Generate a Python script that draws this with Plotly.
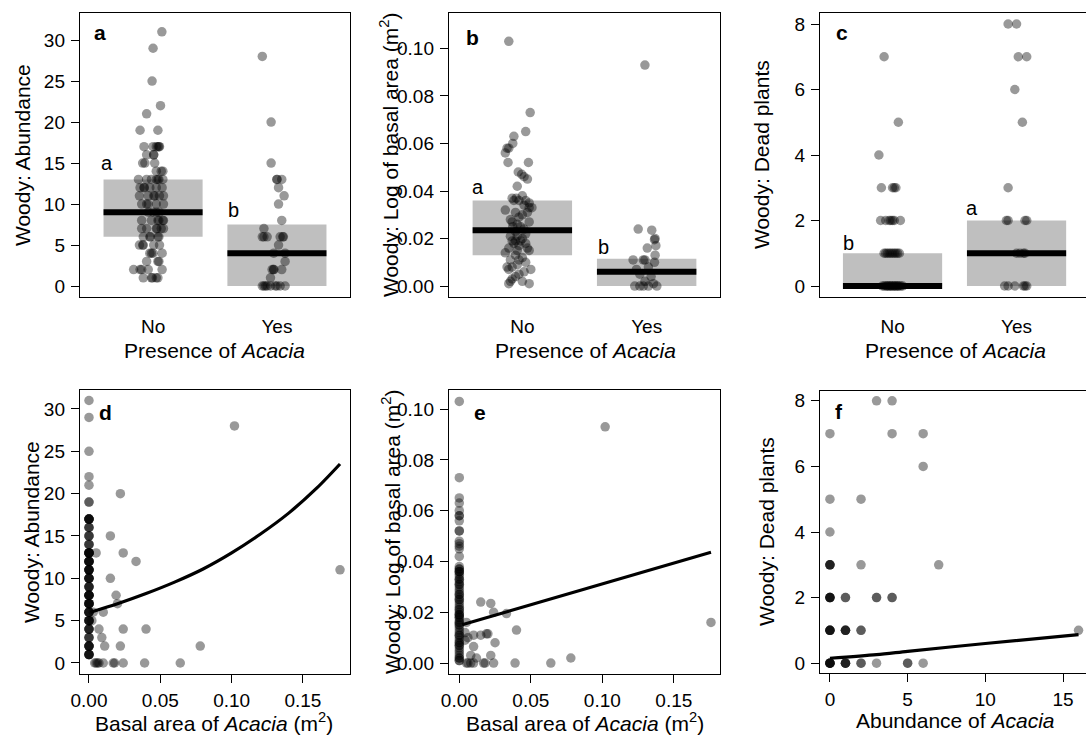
import plotly.graph_objects as go

W, H = 1086, 738
FONT = "Liberation Sans, Arial, sans-serif"
PT = "rgba(0,0,0,0.4)"
BOXC = "rgb(191,191,191)"

# ---------------- data ----------------
cats = ["No", "Yes"]

# panel a: woody abundance by presence of Acacia (jitter offsets)
a_no_y = [31, 29, 25, 22, 21, 19, 19, 17, 17, 17, 17, 17, 16, 16, 15, 15, 15, 14, 14,
          13, 13, 13, 13, 13, 13, 12, 12, 12, 12, 12, 11, 11, 11, 11, 11, 10, 10, 10, 10,
          9, 9, 9, 8, 8, 8, 8, 8, 7, 7, 7, 7, 7, 6, 6, 6, 6, 5, 5, 5, 5, 4, 4, 4, 3, 3,
          2, 2, 2, 2, 1, 1, 1, 12, 8, 6, 7, 13, 17, 16, 4, 1, 1, 2, 3, 10, 11, 9, 5, 14]
a_no_j = [0.071, 0.0, -0.008, 0.060, -0.052, -0.105, 0.039, -0.073, 0.0, 0.026, 0.039, 0.052,
          -0.052, 0.005, -0.084, -0.066, 0.013, 0.066, 0.079,
          -0.118, -0.052, -0.013, 0.026, 0.047, 0.079, -0.105, -0.073, -0.026, 0.026, 0.073,
          -0.110, -0.039, 0.013, 0.052, 0.084, -0.092, -0.052, 0.026, 0.084,
          -0.039, 0.0, 0.052, -0.092, -0.013, 0.039, 0.079, 0.084, -0.092, -0.052, 0.026, 0.066, 0.084,
          -0.079, -0.026, 0.039, 0.047, -0.110, -0.079, 0.005, 0.052, -0.026, 0.0, 0.073,
          -0.052, 0.039, -0.157, -0.105, -0.039, 0.073, -0.079, -0.013, 0.039,
          -0.071, 0.047, -0.021, 0.031, 0.039, 0.047, 0.005, -0.013, -0.005, 0.026, -0.092,
          0.047, -0.039, 0.005, 0.026, -0.084, 0.026]
a_yes_y = [28, 20, 15, 13, 13, 12, 11, 10, 8, 7, 6, 6, 6, 6, 5, 4, 4, 3, 2, 2, 2, 1,
           0, 0, 0, 0, 0, 0, 0, 0, 0, 13, 6, 6, 2]
a_yes_j = [-0.118, -0.047, -0.047, 0.0, 0.039, 0.013, 0.058, 0.013, 0.039, -0.105,
           -0.118, -0.079, 0.026, 0.052, 0.013, -0.026, 0.066, 0.066, -0.039, -0.026, 0.039,
           -0.052, -0.118, -0.092, -0.052, -0.013, 0.026, 0.066, -0.105, -0.079, 0.0,
           0.0, -0.105, 0.047, -0.026]
a_q1 = [6, 0]
a_med = [9, 4]
a_q3 = [13, 7.5]

# panel b: woody log of basal area by presence of Acacia
b_no_y = [0.103, 0.073, 0.065, 0.063, 0.060, 0.058, 0.058, 0.056, 0.052, 0.052, 0.048, 0.047,
          0.046, 0.045, 0.042, 0.037, 0.037, 0.038, 0.036, 0.036, 0.035, 0.033, 0.032, 0.031,
          0.030, 0.028, 0.027, 0.026, 0.025, 0.024, 0.022, 0.021, 0.019, 0.019, 0.018, 0.016,
          0.015, 0.015, 0.014, 0.012, 0.011, 0.010, 0.008, 0.008, 0.007, 0.006, 0.004, 0.003,
          0.002, 0.002, 0.001, 0.001,
          0.036, 0.034, 0.033, 0.029, 0.027, 0.023, 0.020, 0.019, 0.017, 0.016, 0.013, 0.011,
          0.009, 0.007, 0.005, 0.031, 0.025, 0.021, 0.018]
b_no_j = [-0.109, 0.063, 0.027, -0.068, -0.077, -0.123, -0.109, -0.137, -0.115, 0.049, -0.033,
          -0.005, 0.014, 0.041, -0.041, -0.082, -0.049, 0.0, -0.027, 0.027, 0.055, 0.077, -0.137,
          -0.055, 0.0, -0.096, 0.055, -0.041, -0.077, 0.014, 0.027, -0.096, -0.055, -0.014, 0.027,
          -0.109, -0.041, 0.055, -0.137, 0.0, -0.027, 0.027, -0.123, -0.082, 0.068, 0.014,
          -0.055, -0.082, -0.096, 0.0, -0.109, 0.055,
          -0.068, 0.014, 0.055, -0.027, -0.082, -0.055, 0.0, -0.082, -0.027, 0.041, -0.055,
          -0.096, -0.041, -0.109, -0.027, 0.041, -0.014, -0.041, -0.068]
b_yes_y = [0.093, 0.024, 0.0235, 0.020, 0.017, 0.016, 0.013, 0.011, 0.011, 0.010, 0.008, 0.007,
           0.005, 0.004, 0.002, 0.001, 0.0, 0.0, 0.0, 0.0, 0.0, 0.0195, 0.011]
b_yes_j = [-0.014, -0.068, 0.041, 0.068, 0.074, 0.005, 0.068, -0.109, -0.014, 0.063, 0.014,
           -0.082, -0.055, 0.036, -0.014, 0.055, -0.096, -0.055, -0.027, 0.014, 0.082, 0.063, -0.027]
b_q1 = [0.013, 0.0]
b_med = [0.0235, 0.006]
b_q3 = [0.036, 0.0115]

# panel c: woody dead plants by presence of Acacia
c_no_y = [7, 5, 4, 3, 3, 3, 3, 2, 2, 2, 2, 2, 2, 2, 1, 1, 1, 1, 1, 1, 1, 1, 1, 1,
          0, 0, 0, 0, 0, 0, 0, 0, 0, 0, 0, 0, 0, 0, 0, 0, 0]
c_no_j = [-0.068, 0.047, -0.110, -0.090, 0.0, 0.014, 0.027, -0.096, -0.055, -0.027, -0.014,
          0.0, 0.014, 0.063, -0.068, -0.055, -0.041, -0.027, -0.014, 0.0, 0.014, 0.027, 0.041, 0.055,
          -0.082, -0.068, -0.055, -0.041, -0.027, -0.014, 0.0, 0.014, 0.027, 0.041, 0.055, 0.068,
          0.082, -0.041, -0.014, 0.014, 0.041]
c_yes_y = [8, 8, 7, 7, 6, 5, 3, 2, 2, 2, 2, 1, 1, 1, 1, 0, 0, 0, 0, 0, 0]
c_yes_j = [-0.068, 0.0, 0.014, 0.082, -0.014, 0.047, -0.068, -0.082, -0.068, 0.068, 0.082,
           0.0, 0.027, 0.055, 0.068, -0.096, -0.068, -0.014, 0.055, 0.068, 0.082]
c_q1 = [0, 0]
c_med = [0, 1]
c_q3 = [1, 2]

# panel d: woody abundance vs basal area of Acacia (plots without Acacia sit at 0)
d_x = [0.102, 0.022, 0.015, 0.005, 0.024, 0.033, 0.176, 0.015, 0.019, 0.020, 0.003, 0.010,
       0.002, 0.007, 0.024, 0.040, 0.009, 0.011, 0.022, 0.078, 0.004, 0.005, 0.006, 0.007,
       0.010, 0.017, 0.018, 0.024, 0.039, 0.064]
d_y = [28, 20, 15, 13, 13, 12, 11, 10, 8, 7, 6, 6, 5, 4, 4, 4, 3, 2, 2, 2, 0, 0, 0, 0,
       0, 0, 0, 0, 0, 0]
d_fit_x = [0.001, 0.02, 0.04, 0.06, 0.08, 0.10, 0.12, 0.14, 0.16, 0.176]
d_fit_y = [6.0, 7.0, 8.2, 9.55, 11.1, 13.0, 15.2, 17.7, 20.7, 23.5]

# panel e: woody log basal area vs basal area of Acacia
e_x = [0.102, 0.176, 0.015, 0.022, 0.024, 0.033, 0.005, 0.004, 0.010, 0.015, 0.019, 0.020,
       0.040, 0.004, 0.006, 0.010, 0.025, 0.008, 0.012, 0.022, 0.078, 0.005, 0.006, 0.008,
       0.010, 0.017, 0.018, 0.024, 0.039, 0.064]
e_y = [0.093, 0.016, 0.024, 0.0235, 0.020, 0.0195, 0.016, 0.012, 0.011, 0.011, 0.0115,
       0.0115, 0.013, 0.009, 0.010, 0.0065, 0.008, 0.003, 0.002, 0.003, 0.002, 0.0, 0.0,
       0.0, 0.0, 0.0, 0.0, 0.0, 0.0, 0.0]
e_fit_x = [0.002, 0.176]
e_fit_y = [0.0151, 0.0436]

# panel f: woody dead plants vs abundance of Acacia (n = overlapping plots)
f_x = [0, 0, 0, 0, 0, 0, 0, 1, 1, 1, 2, 2, 2, 2, 3, 3, 3, 4, 4, 4, 5, 6, 6, 6, 7, 16]
f_y = [0, 1, 2, 3, 4, 5, 7, 0, 1, 2, 0, 1, 3, 5, 0, 2, 8, 2, 7, 8, 0, 0, 6, 7, 3, 1]
f_n = [6, 5, 5, 4, 1, 1, 1, 4, 4, 2, 2, 2, 1, 1, 1, 2, 1, 2, 1, 1, 2, 1, 1, 1, 1, 1]
f_fit_x = [0, 3, 5, 10, 16]
f_fit_y = [0.15, 0.26, 0.36, 0.60, 0.87]

# ---------------- figure ----------------
fig = go.Figure()


def dx(l, r):
    return [l / W, min(r / W, 1.0)]


def dy(t, b):
    return [1 - b / H, 1 - t / H]


def pts(x, y, ax):
    fig.add_trace(go.Scatter(x=x, y=y, mode="markers", xaxis=ax[0], yaxis=ax[1],
                             marker=dict(size=9.5, color=PT, line=dict(width=0)),
                             showlegend=False, hoverinfo="skip"))


def boxes(q1, med, q3, ax):
    for i in range(2):
        c = i + 1
        fig.add_trace(go.Scatter(x=[c - 0.4, c + 0.4, c + 0.4, c - 0.4, c - 0.4],
                                 y=[q1[i], q1[i], q3[i], q3[i], q1[i]],
                                 fill="toself", fillcolor=BOXC, mode="none",
                                 xaxis=ax[0], yaxis=ax[1], showlegend=False, hoverinfo="skip"))


def medians(med, ax):
    for i in range(2):
        c = i + 1
        fig.add_trace(go.Scatter(x=[c - 0.4, c + 0.4], y=[med[i], med[i]], mode="lines",
                                 line=dict(color="black", width=6), xaxis=ax[0], yaxis=ax[1],
                                 showlegend=False, hoverinfo="skip"))


def fitline(x, y, ax):
    fig.add_trace(go.Scatter(x=x, y=y, mode="lines",
                             line=dict(color="black", width=3.2, shape="spline", smoothing=0.8),
                             xaxis=ax[0], yaxis=ax[1], showlegend=False, hoverinfo="skip"))


# top row: category panels
top = [("x", "y", a_no_y, a_no_j, a_yes_y, a_yes_j, a_q1, a_med, a_q3),
       ("x2", "y2", b_no_y, b_no_j, b_yes_y, b_yes_j, b_q1, b_med, b_q3),
       ("x3", "y3", c_no_y, c_no_j, c_yes_y, c_yes_j, c_q1, c_med, c_q3)]
for xa, ya, ny, nj, yy, yj, q1, md, q3 in top:
    boxes(q1, md, q3, (xa, ya))
    pts([1 + j for j in nj], ny, (xa, ya))
    pts([2 + j for j in yj], yy, (xa, ya))
    medians(md, (xa, ya))

# bottom row
pts([0.0] * len(a_no_y) + d_x, a_no_y + d_y, ("x4", "y4"))
fitline(d_fit_x, d_fit_y, ("x4", "y4"))
pts([0.0] * len(b_no_y) + e_x, b_no_y + e_y, ("x5", "y5"))
fitline(e_fit_x, e_fit_y, ("x5", "y5"))
fx, fy = [], []
for x, y, n in zip(f_x, f_y, f_n):
    fx += [x] * n
    fy += [y] * n
pts(fx, fy, ("x6", "y6"))
fitline(f_fit_x, f_fit_y, ("x6", "y6"))

tickfont = dict(family=FONT, size=19, color="black")
base = dict(showgrid=False, zeroline=False, showline=True, linecolor="black", linewidth=1.4,
            tickfont=tickfont, tickcolor="black", tickwidth=1.3, automargin=False)


def xcat(dom, rng, mirror):
    return dict(base, domain=dom, range=rng, tickvals=[1, 2], ticktext=cats, ticks="",
                mirror=mirror, ticklabelstandoff=12)


def xnum(dom, rng, tv, tt, mirror):
    return dict(base, domain=dom, range=rng, tickvals=tv, ticktext=tt, ticks="outside",
                ticklen=8, mirror=mirror, ticklabelstandoff=1)


def ynum(dom, rng, tv, tt, mirror, anchor):
    return dict(base, domain=dom, range=rng, tickvals=tv, ticktext=tt, ticks="outside",
                ticklen=8, mirror=mirror, anchor=anchor, ticklabelstandoff=2)


top_y = dy(13, 297)
bot_y = dy(390, 674)
layout = dict(
    width=W, height=H, margin=dict(l=0, r=0, t=0, b=0, pad=0),
    paper_bgcolor="white", plot_bgcolor="white", showlegend=False,
    xaxis=xcat(dx(80, 350), [0.41, 2.59], True) | dict(anchor="y"),
    yaxis=ynum(top_y, [-1.34, 33.3], [0, 5, 10, 15, 20, 25, 30],
               ["0", "5", "10", "15", "20", "25", "30"], True, "x"),
    xaxis2=xcat(dx(449, 720), [0.41, 2.59], True) | dict(anchor="y2"),
    yaxis2=ynum(top_y, [-0.0046, 0.1149], [0, 0.02, 0.04, 0.06, 0.08, 0.10],
                ["0.00", "0.02", "0.04", "0.06", "0.08", "0.10"], True, "x2"),
    xaxis3=xcat(dx(820, 1086), [0.415, 2.56], True) | dict(anchor="y3"),
    yaxis3=ynum(top_y, [-0.336, 8.336], [0, 2, 4, 6, 8], ["0", "2", "4", "6", "8"], False, "x3"),
    xaxis4=xnum(dx(80, 350), [-0.0063, 0.183], [0, 0.05, 0.10, 0.15],
                ["0.00", "0.05", "0.10", "0.15"], True) | dict(anchor="y4"),
    yaxis4=ynum(bot_y, [-1.3, 32.24], [0, 5, 10, 15, 20, 25, 30],
                ["0", "5", "10", "15", "20", "25", "30"], True, "x4"),
    xaxis5=xnum(dx(449, 720), [-0.0072, 0.1823], [0, 0.05, 0.10, 0.15],
                ["0.00", "0.05", "0.10", "0.15"], True) | dict(anchor="y5"),
    yaxis5=ynum(bot_y, [-0.0043, 0.1075], [0, 0.02, 0.04, 0.06, 0.08, 0.10],
                ["0.00", "0.02", "0.04", "0.06", "0.08", "0.10"], True, "x5"),
    xaxis6=xnum(dx(820, 1086), [-0.64, 16.48], [0, 5, 10, 15], ["0", "5", "10", "15"], True)
    | dict(anchor="y6"),
    yaxis6=ynum(dy(391, 673), [-0.30, 8.30], [0, 2, 4, 6, 8], ["0", "2", "4", "6", "8"],
                False, "x6"),
)
fig.update_layout(**layout)

ann = []


def txt(px, py, text, size=21, angle=0):
    ann.append(dict(x=px / W, y=1 - py / H, xref="paper", yref="paper", text=text,
                    showarrow=False, textangle=angle, xanchor="center", yanchor="middle",
                    font=dict(family=FONT, size=size, color="black")))


# panel letters
for px, py, t in [(100, 33, "a"), (472, 37, "b"), (842, 33, "c"),
                  (105, 412, "d"), (480, 412, "e"), (839, 411, "f")]:
    txt(px, py, "<b>%s</b>" % t, size=21)

# significance letters
for px, py, t in [(107, 163, "a"), (233, 210, "b"), (478, 187, "a"), (603, 247, "b"),
                  (848, 243, "b"), (972, 208, "a")]:
    txt(px, py, t, size=20)

# axis titles
ac = "<i>Acacia</i>"
txt(214, 350, "Presence of " + ac)
txt(585, 350, "Presence of " + ac)
txt(955, 350, "Presence of " + ac)
txt(214, 722, "Basal area of " + ac + " (m<sup>2</sup>)")
txt(585, 722, "Basal area of " + ac + " (m<sup>2</sup>)")
txt(955, 720, "Abundance of " + ac)
txt(23, 155, "Woody: Abundance", angle=-90)
txt(389, 155, "Woody: Log of basal area (m<sup>2</sup>)", angle=-90)
txt(762, 155, "Woody: Dead plants", angle=-90)
txt(31, 532, "Woody: Abundance", angle=-90)
txt(391, 532, "Woody: Log of basal area (m<sup>2</sup>)", angle=-90)
txt(766, 532, "Woody: Dead plants", angle=-90)
fig.update_layout(annotations=ann)

fig.write_html("out.html", config={"displayModeBar": False},
               post_script="document.body.style.margin='0';document.body.style.overflow='hidden';")
